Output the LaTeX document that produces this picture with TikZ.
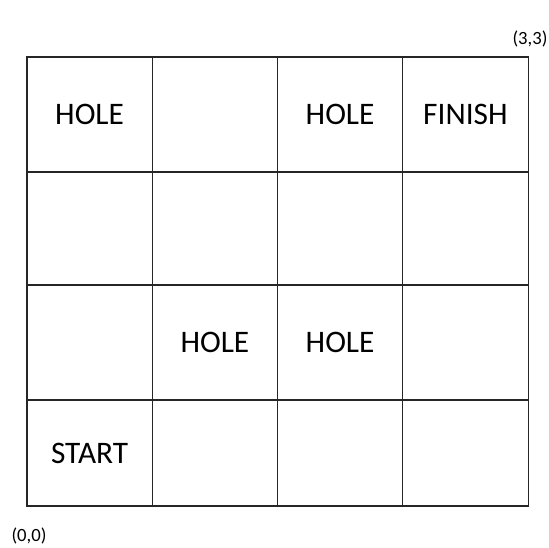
\documentclass[tikz,border=0pt]{standalone}
\usepackage{fontspec}
\setmainfont{Carlito}
\begin{document}
\begin{tikzpicture}[x=0.75pt,y=-0.75pt,
  cell/.style={draw=black!85, line width=0.8pt, inner sep=0pt, anchor=center,
    font=\fontsize{23.5}{28}\selectfont},
  corner/.style={inner sep=0pt, anchor=center, font=\fontsize{14}{17}\selectfont}]
\useasboundingbox (0,0) rectangle (549,547);
\def\cw{125.25*0.75pt}
% row 1 (y 57-172)
\node[cell, minimum width=\cw, minimum height=115*0.75pt] (c13) at (89.6,114.5) {HOLE};
\node[cell, minimum width=\cw, minimum height=115*0.75pt] (c23) at (214.9,114.5) {};
\node[cell, minimum width=\cw, minimum height=115*0.75pt] (c33) at (340.1,114.5) {HOLE};
\node[cell, minimum width=\cw, minimum height=115*0.75pt] (c43) at (465.4,114.5) {FINISH};
% row 2 (y 172-285)
\node[cell, minimum width=\cw, minimum height=113*0.75pt] (c12) at (89.6,228.5) {};
\node[cell, minimum width=\cw, minimum height=113*0.75pt] (c22) at (214.9,228.5) {};
\node[cell, minimum width=\cw, minimum height=113*0.75pt] (c32) at (340.1,228.5) {};
\node[cell, minimum width=\cw, minimum height=113*0.75pt] (c42) at (465.4,228.5) {};
% row 3 (y 285-400)
\node[cell, minimum width=\cw, minimum height=115*0.75pt] (c11) at (89.6,342.5) {};
\node[cell, minimum width=\cw, minimum height=115*0.75pt] (c21) at (214.9,342.5) {HOLE};
\node[cell, minimum width=\cw, minimum height=115*0.75pt] (c31) at (340.1,342.5) {HOLE};
\node[cell, minimum width=\cw, minimum height=115*0.75pt] (c41) at (465.4,342.5) {};
% row 4 (y 400-506)
\node[cell, minimum width=\cw, minimum height=106*0.75pt] (c10) at (89.6,453) {START};
\node[cell, minimum width=\cw, minimum height=106*0.75pt] (c20) at (214.9,453) {};
\node[cell, minimum width=\cw, minimum height=106*0.75pt] (c30) at (340.1,453) {};
\node[cell, minimum width=\cw, minimum height=106*0.75pt] (c40) at (465.4,453) {};
% corner labels
\node[corner] (lbl33) at (530,39) {(3,3)};
\node[corner] (lbl00) at (29,536) {(0,0)};
\end{tikzpicture}
\end{document}
